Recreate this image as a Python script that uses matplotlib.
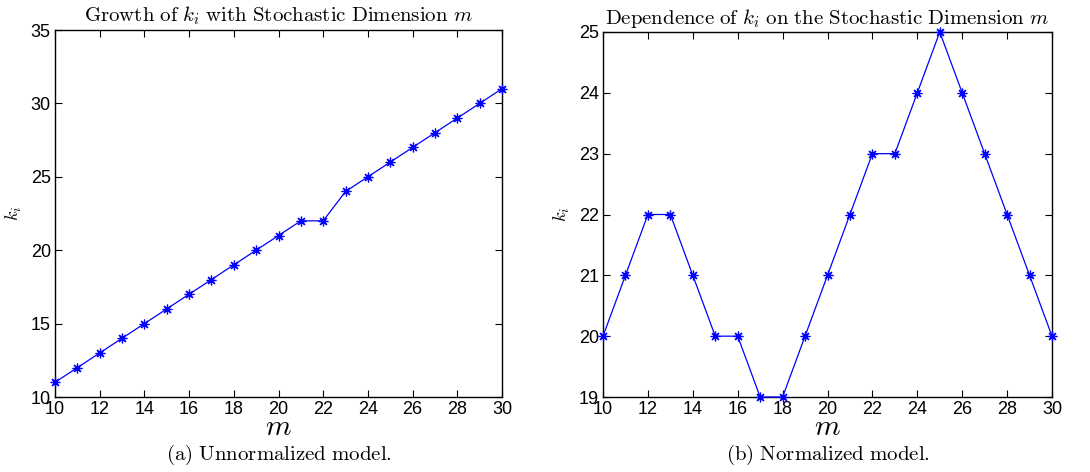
import matplotlib
matplotlib.use("Agg")
import matplotlib.pyplot as plt

m_vals = list(range(10, 31))
k_unnorm = [11, 12, 13, 14, 15, 16, 17, 18, 19, 20, 21, 22, 22, 24, 25, 26, 27, 28, 29, 30, 31]
k_norm = [20, 21, 22, 22, 21, 20, 20, 19, 19, 20, 21, 22, 23, 23, 24, 25, 24, 23, 22, 21, 20]
x_ticks = list(range(10, 31, 2))
y_ticks_a = [10, 15, 20, 25, 30, 35]
y_ticks_b = [19, 20, 21, 22, 23, 24, 25]

plt.rcParams['mathtext.fontset'] = 'cm'
plt.rcParams['font.family'] = ['Liberation Sans', 'DejaVu Sans']

fig = plt.figure(figsize=(10.9, 4.72), dpi=100)
W, H = 1090, 472

def make_ax(x0, x1, y0, y1):
    return fig.add_axes([x0 / W, 1 - y1 / H, (x1 - x0) / W, (y1 - y0) / H])

ax1 = make_ax(55, 502, 30, 397)
ax2 = make_ax(603, 1052, 32, 397)

panels = [
    (ax1, k_unnorm, y_ticks_a, r'$\mathrm{Growth\ of\ }k_i\mathrm{\ with\ Stochastic\ Dimension\ }m$', '(a) Unnormalized model.'),
    (ax2, k_norm, y_ticks_b, r'$\mathrm{Dependence\ of\ }k_i\mathrm{\ on\ the\ Stochastic\ Dimension\ }m$', '(b) Normalized model.'),
]

for ax, data, yt, title, caption in panels:
    ax.plot(m_vals, data, color='#0000ff', linewidth=0.9, marker=(8, 2, 0), markersize=7,
            markeredgewidth=0.9, clip_on=False, zorder=3)
    ax.set_xlim(10, 30)
    ax.set_ylim(yt[0], yt[-1])
    ax.set_xticks(x_ticks)
    ax.set_yticks(yt)
    ax.tick_params(direction='in', top=True, right=True, labelsize=13, length=5, width=0.8, pad=3)
    for s in ax.spines.values():
        s.set_linewidth(1.0)
    ax.set_title(title, fontsize=15, pad=6)
    ax.set_xlabel(r'$m$', fontsize=21, labelpad=-4)
    ax.set_ylabel(r'$k_i$', fontsize=13, labelpad=5)
    ax.text(0.5, -0.158, r'$\mathrm{' + caption.replace(' ', r'\ ') + '}$', transform=ax.transAxes,
            ha='center', va='center', fontsize=15)

fig.savefig('out.png', dpi=100)
